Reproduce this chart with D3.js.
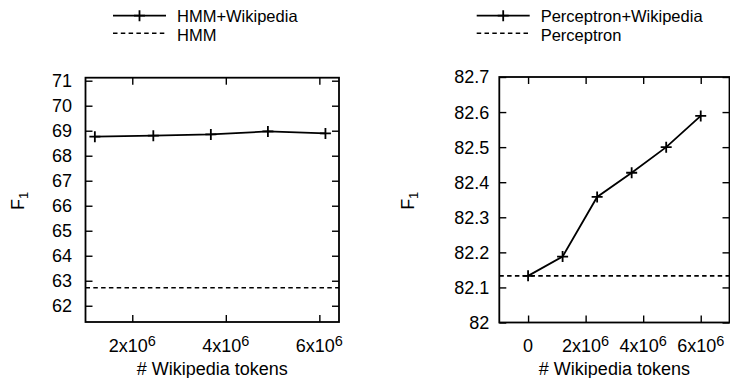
<!DOCTYPE html>
<html><head><meta charset="utf-8">
<script src="https://cdn.jsdelivr.net/npm/d3@7"></script>
<style>
body{margin:0;background:#fff;}
svg text{font-family:"Liberation Sans",Arial,Helvetica,sans-serif;font-size:18px;fill:#000;}
svg text.leg{font-size:16.5px;}
</style></head>
<body><svg id="c" width="730" height="378"></svg>
<script>
// Left panel data
const hmmWikiTokens = [1.2e6, 2.45e6, 3.68e6, 4.9e6, 6.13e6];
const hmmWikiF1 = [68.76, 68.8, 68.85, 68.97, 68.89];
const hmmBaseline = 62.72;
const leftXTicks = [2e6, 4e6, 6e6];
const leftYTicks = [62, 63, 64, 65, 66, 67, 68, 69, 70, 71];
// Right panel data
const percWikiTokens = [0, 1.2e6, 2.4e6, 3.6e6, 4.8e6, 6.0e6];
const percWikiF1 = [82.133, 82.188, 82.358, 82.427, 82.5, 82.589];
const percBaseline = 82.133;
const rightXTicks = [0, 2e6, 4e6, 6e6];
const rightYTicks = [82, 82.1, 82.2, 82.3, 82.4, 82.5, 82.6, 82.7];

const svg = d3.select("#c");

function panel(cfg){
  const g = svg.append("g");
  const x = d3.scaleLinear().domain(cfg.xDomain).range([cfg.left, cfg.right]);
  const y = d3.scaleLinear().domain(cfg.yDomain).range([cfg.bottom, cfg.top]);
  const tl = 7;
  g.append("g").attr("transform", `translate(0,${cfg.bottom})`)
    .call(d3.axisBottom(x).tickValues(cfg.xTicks).tickSize(-tl).tickFormat(""));
  g.append("g").attr("transform", `translate(0,${cfg.top})`)
    .call(d3.axisTop(x).tickValues(cfg.xTicks).tickSize(-tl).tickFormat(""));
  g.append("g").attr("transform", `translate(${cfg.left},0)`)
    .call(d3.axisLeft(y).tickValues(cfg.yTicks).tickSize(-tl).tickFormat(""));
  g.append("g").attr("transform", `translate(${cfg.right},0)`)
    .call(d3.axisRight(y).tickValues(cfg.yTicks).tickSize(-tl).tickFormat(""));
  g.selectAll(".domain").remove();
  g.selectAll(".tick text").remove();
  g.selectAll(".tick line").attr("stroke","#000").attr("stroke-width",1.4);
  g.append("rect").attr("x",cfg.left).attr("y",cfg.top)
    .attr("width",cfg.right-cfg.left).attr("height",cfg.bottom-cfg.top)
    .attr("fill","none").attr("stroke","#000").attr("stroke-width",1.8);
  g.selectAll(".ylab").data(cfg.yTicks).enter().append("text")
    .attr("x", cfg.left - cfg.yLabGap).attr("y", d=>y(d)).attr("dy","0.36em")
    .attr("text-anchor","end").text(d=>cfg.yFmt(d));
  cfg.xTicks.forEach(d=>{
    const t = g.append("text").attr("x", x(d)).attr("y", 352).attr("text-anchor","middle");
    if(d===0){ t.text("0"); }
    else {
      const m = Math.round(d/1e6);
      t.append("tspan").text(m+"x10");
      t.append("tspan").attr("dy",-6).style("font-size","14.5px").text("6");
    }
  });
  g.append("text").attr("x",(cfg.left+cfg.right)/2).attr("y",375)
    .attr("text-anchor","middle").text("# Wikipedia tokens");
  const yt = g.append("text").attr("transform",`translate(${cfg.yTitleX},${(cfg.top+cfg.bottom)/2+1}) rotate(-90)`)
    .attr("text-anchor","middle");
  yt.append("tspan").text("F");
  yt.append("tspan").attr("dy",4).style("font-size","13px").text("1");
  const cid = "clip"+cfg.id;
  svg.append("clipPath").attr("id",cid).append("rect")
    .attr("x",cfg.left).attr("y",cfg.top).attr("width",cfg.right-cfg.left).attr("height",cfg.bottom-cfg.top);
  g.append("line").attr("clip-path",`url(#${cid})`)
    .attr("x1",cfg.left).attr("x2",cfg.right).attr("y1",y(cfg.base)).attr("y2",y(cfg.base))
    .attr("stroke","#000").attr("stroke-width",1.6).attr("stroke-dasharray","4.5,3.3");
  const pts = cfg.xs.map((v,i)=>[v,cfg.ys[i]]);
  g.append("path").datum(pts)
    .attr("d", d3.line().x(d=>x(d[0])).y(d=>y(d[1])))
    .attr("fill","none").attr("stroke","#000").attr("stroke-width",1.8);
  const ps = 5.5;
  g.selectAll(".pt").data(pts).enter().append("path")
    .attr("d", d=>{const px=x(d[0]), py=y(d[1]);
      return `M${px-ps},${py}H${px+ps}M${px},${py-ps}V${py+ps}`;})
    .attr("stroke","#000").attr("stroke-width",1.8);
  // legend
  const lx0 = cfg.legX, lx1 = cfg.legX+53;
  g.append("line").attr("x1",lx0).attr("x2",lx1).attr("y1",15.7).attr("y2",15.7)
    .attr("stroke","#000").attr("stroke-width",1.8);
  const mx=(lx0+lx1)/2;
  g.append("path").attr("d",`M${mx-ps},15.7H${mx+ps}M${mx},${15.7-ps}V${15.7+ps}`)
    .attr("stroke","#000").attr("stroke-width",1.8);
  g.append("text").attr("class","leg").attr("x",lx1+11).attr("y",22.1).text(cfg.legA);
  g.append("line").attr("x1",lx0).attr("x2",lx1).attr("y1",33.3).attr("y2",33.3)
    .attr("stroke","#000").attr("stroke-width",1.6).attr("stroke-dasharray","4.5,3.3");
  g.append("text").attr("class","leg").attr("x",lx1+11).attr("y",40.9).text(cfg.legB);
}

panel({id:"L", left:85.5, right:339, top:77.7, bottom:322,
  xDomain:[1e6, 6.42e6], yDomain:[61.35, 71.12],
  xTicks:leftXTicks, yTicks:leftYTicks, yFmt:d=>d, yLabGap:13.5, yTitleX:24,
  xs:hmmWikiTokens, ys:hmmWikiF1, base:hmmBaseline,
  legX:113, legA:"HMM+Wikipedia", legB:"HMM"});
panel({id:"R", left:499.3, right:729.5, top:77, bottom:322.5,
  xDomain:[-1e6, 7e6], yDomain:[82, 82.7],
  xTicks:rightXTicks, yTicks:rightYTicks, yFmt:d=>d3.format(".1f")(d).replace(/\.0$/,""), yLabGap:10, yTitleX:414,
  xs:percWikiTokens, ys:percWikiF1, base:percBaseline,
  legX:476.7, legA:"Perceptron+Wikipedia", legB:"Perceptron"});
</script></body></html>
